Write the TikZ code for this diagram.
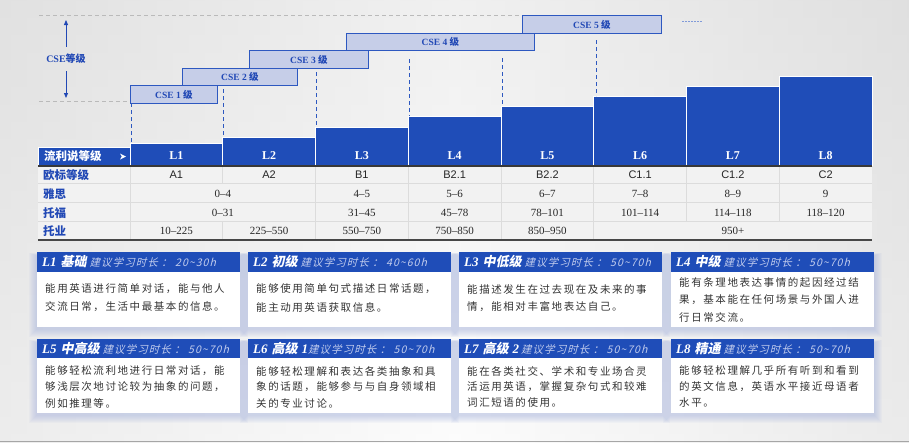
\documentclass[tikz,border=0pt]{standalone}
\usepackage{fontspec}
\setmainfont{Liberation Serif}
\newfontfamily\cjk{Noto Sans CJK SC}
\newfontfamily\cjkbody{Noto Sans CJK SC}[LetterSpace=15]
\newfontfamily\cjksub{Noto Sans CJK SC}[FakeSlant=0.25,LetterSpace=10]
\newfontfamily\cjkttl{Noto Sans CJK SC}[FakeSlant=0.2]
\newfontfamily\arialf{Liberation Sans}
\usetikzlibrary{arrows.meta}
\definecolor{barblue}{HTML}{1F4DB8}
\definecolor{boxfill}{HTML}{C6CEE8}
\definecolor{boxline}{HTML}{2D58C0}
\definecolor{lblue}{HTML}{2148B5}
\definecolor{subc}{HTML}{C2CDEE}
\definecolor{bodyc}{HTML}{333333}
\definecolor{shc}{HTML}{A4B2DE}
\definecolor{sepc}{HTML}{DCDCDC}
\definecolor{tbg}{HTML}{F2F2F2}
\newcommand\cshadow[4]{%
  \foreach \s in {1,...,8}{\fill[shc,opacity=0.075] ({#1-\s},{#2+4-0.4*\s}) rectangle ({#3+\s},{#4+2+\s});}}
\tikzset{
  csebox/.style={draw=boxline,fill=boxfill,line width=0.9pt,inner sep=0pt,anchor=north west,text=lblue,font=\bfseries\fontsize{9.5}{10}\selectfont},
  vdash/.style={draw=boxline,line width=0.9pt,dash pattern=on 4pt off 3pt},
  gdash/.style={draw=black!27,line width=0.8pt,dash pattern=on 4pt off 3pt},
  bar/.style={fill=barblue,draw=white,line width=0.9pt},
  barlbl/.style={text=white,font=\bfseries\fontsize{12}{12}\selectfont},
  rowlbl/.style={text=lblue,anchor=west,inner sep=0pt,font=\cjk\bfseries\fontsize{11.5}{12}\selectfont},
  cellA/.style={text=black!85,inner sep=0pt,font=\arialf\fontsize{11}{12}\selectfont},
  cellN/.style={text=black!85,inner sep=0pt,font=\fontsize{11}{12}\selectfont},
  sepl/.style={draw=sepc,line width=0.8pt},
  hdtxt/.style={anchor=west,inner sep=0pt,text=white},
  bodytxt/.style={anchor=west,inner sep=0pt,text=bodyc,font=\cjkbody\fontsize{10.5}{12}\selectfont},
  arr/.style={draw=lblue,line width=0.8pt,-{Triangle[width=4pt,length=5pt]}}
}
\newcommand\ttlhead[2]{{\bfseries\itshape\fontsize{13}{13}\selectfont #1}\hspace{4pt}{\cjkttl\bfseries\fontsize{13}{13}\selectfont #2}}
\newcommand\ttlsub[1]{{\color{subc}\cjksub\fontsize{10.5}{12}\selectfont #1}}
\newcommand\ttl[3]{\ttlhead{#1}{#2}\hspace{3pt}\ttlsub{#3}}
\begin{document}
\begin{tikzpicture}[x=1pt,y=-1pt]
\useasboundingbox (0,0) rectangle (909,442);
\shade[left color=black!13,right color=black!14,middle color=black!2] (0,0) rectangle (909,442);
\shade[top color=black!10,bottom color=white,opacity=0.45] (0,0) rectangle (909,442);
\draw[black!35,line width=0.8pt] (0,441.5) -- (909,441.5);

% guide lines
\draw[gdash] (39,15) -- (522,15);
\draw[gdash] (39,101) -- (130,101);
\draw[draw=boxline!60,line width=1pt,dash pattern=on 2pt off 1pt] (682,21) -- (703,21);

% CSE label and arrows
\node[text=lblue,inner sep=0pt,minimum height=24pt,font=\bfseries\fontsize{10}{10}\selectfont] (cselbl) at (66,59) {CSE{\cjk\bfseries 等级}};
\coordinate (atop) at (66,20);
\coordinate (abot) at (66,98);
\draw[arr] (cselbl.north) -- (atop);
\draw[arr] (cselbl.south) -- (abot);

% CSE boxes
\node[csebox,minimum width=87pt,minimum height=18pt] (cse1) at (130,85) {CSE 1 {\cjk\bfseries 级}};
\node[csebox,minimum width=115pt,minimum height=17pt] (cse2) at (182,68) {CSE 2 {\cjk\bfseries 级}};
\node[csebox,minimum width=119pt,minimum height=18pt] (cse3) at (249,50) {CSE 3 {\cjk\bfseries 级}};
\node[csebox,minimum width=188pt,minimum height=17pt] (cse4) at (346,33) {CSE 4 {\cjk\bfseries 级}};
\node[csebox,minimum width=139pt,minimum height=18pt] (cse5) at (522,15) {CSE 5 {\cjk\bfseries 级}};

% bars
\node[fill=barblue,draw=white,line width=0.9pt,minimum width=92pt,minimum height=18pt,anchor=north west,inner sep=0pt] (hdr) at (38,147) {};
\node[hdtxt,font=\cjk\bfseries\fontsize{11.5}{12}\selectfont] (hdrt) at (44,156) {流利说等级};
\fill[white] (120,153.5) -- (126,156.5) -- (120,159.5) -- (121.8,156.5) -- cycle;
\foreach \i/\t in {1/143,2/137,3/127,4/116,5/106,6/96,7/86,8/76} {
  \pgfmathsetmacro\xa{130+92.75*(\i-1)}
  \pgfmathsetmacro\xb{130+92.75*\i}
  \filldraw[bar] (\xa,\t) rectangle (\xb,165.5);
  \node[barlbl] (L\i) at ({(\xa+\xb)/2},156) {L\i};
}

% dashed drops
\coordinate (d1a) at (131.5,103); \coordinate (d1b) at (131.5,143);
\coordinate (d2a) at (223.5,89);  \coordinate (d2b) at (223.5,137);
\coordinate (d3a) at (316.5,72);  \coordinate (d3b) at (316.5,127);
\coordinate (d4a) at (409.5,59);  \coordinate (d4b) at (409.5,116);
\coordinate (d5a) at (502,58);    \coordinate (d5b) at (502,105);
\coordinate (d6a) at (596,40);    \coordinate (d6b) at (596,96);
\foreach \k in {1,...,6} {\draw[vdash] (d\k a) -- (d\k b);}

% table
\fill[tbg] (38,166.5) rectangle (872,239);
\foreach \y in {183,202,221} {\draw[sepl] (38,\y) -- (872,\y);}
\foreach \i in {0,...,7} {\draw[sepl] ({130+92.75*\i},166.5) -- ({130+92.75*\i},183);}
\foreach \i in {0,2,3,4,5,6,7} {\draw[sepl] ({130+92.75*\i},183) -- ({130+92.75*\i},221);}
\foreach \i in {0,...,5} {\draw[sepl] ({130+92.75*\i},221) -- ({130+92.75*\i},239);}
\draw[black!78,line width=1.5pt] (38,165.8) -- (872,165.8);
\draw[black!72,line width=2pt] (38,239.5) -- (872,239.5);

\node[rowlbl] (r1) at (43,175) {欧标等级};
\node[rowlbl] (r2) at (43,194) {雅思};
\node[rowlbl] (r3) at (43,213) {托福};
\node[rowlbl] (r4) at (43,231) {托业};

\foreach \i/\v in {1/A1,2/A2,3/B1,4/B2.1,5/B2.2,6/C1.1,7/C1.2,8/C2} {
  \node[cellA] (e\i) at ({130+92.75*(\i-0.5)},175) {\v};
}
\node[cellN] (i12) at (222.75,194) {0--4};
\foreach \i/\v in {3/4--5,4/5--6,5/6--7,6/7--8,7/8--9,8/9} {
  \node[cellN] (i\i) at ({130+92.75*(\i-0.5)},194) {\v};
}
\node[cellN] (t12) at (222.75,213) {0--31};
\foreach \i/\v in {3/31--45,4/45--78,5/78--101,6/101--114,7/114--118,8/118--120} {
  \node[cellN] (t\i) at ({130+92.75*(\i-0.5)},213) {\v};
}
\foreach \i/\v in {1/10--225,2/225--550,3/550--750,4/750--850,5/850--950} {
  \node[cellN] (o\i) at ({130+92.75*(\i-0.5)},231) {\v};
}
\node[cellN] (o678) at (732.9,231) {950+};

% card shadows
\foreach \cx in {37,248,459,671} {\cshadow{\cx}{252}{\cx+203}{327}\cshadow{\cx}{339}{\cx+203}{413}}
% cards
\foreach \cx in {37,248,459,671} {
  \fill[barblue] (\cx,252) rectangle (\cx+203,272);
  \fill[white] (\cx,272) rectangle (\cx+203,327);
  \fill[barblue] (\cx,339) rectangle (\cx+203,358);
  \fill[white] (\cx,358) rectangle (\cx+203,413);
}
% titles
\node[hdtxt] (h1) at (42,262) {\ttl{L1}{基础}{建议学习时长 ： 20\string~30h}};
\node[hdtxt] (h2) at (253,262) {\ttl{L2}{初级}{建议学习时长 ： 40\string~60h}};
\node[hdtxt] (h3) at (464,262) {\ttl{L3}{中低级}{建议学习时长 ： 50\string~70h}};
\node[hdtxt] (h4) at (676,262) {\ttl{L4}{中级}{建议学习时长 ： 50\string~70h}};
\node[hdtxt] (h5) at (42,348.5) {\ttl{L5}{中高级}{建议学习时长 ： 50\string~70h}};
\node[hdtxt] (h6) at (253,348.5) {\ttlhead{L6}{高级}\hspace{4pt}{\bfseries\itshape\fontsize{13}{13}\selectfont 1}\ttlsub{建议学习时长 ： 50\string~70h}};
\node[hdtxt] (h7) at (464,348.5) {\ttlhead{L7}{高级}\hspace{4pt}{\bfseries\itshape\fontsize{13}{13}\selectfont 2}\hspace{2pt}\ttlsub{建议学习时长 ： 50\string~70h}};
\node[hdtxt] (h8) at (676,348.5) {\ttl{L8}{精通}{建议学习时长 ： 50\string~70h}};

% bodies
\node[bodytxt] (b1a) at (45,289) {能用英语进行简单对话，能与他人};
\node[bodytxt] (b1b) at (45,307) {交流日常，生活中最基本的信息。};
\node[bodytxt] (b2a) at (256,289) {能够使用简单句式描述日常话题，};
\node[bodytxt] (b2b) at (256,307) {能主动用英语获取信息。};
\node[bodytxt] (b3a) at (467,289) {能描述发生在过去现在及未来的事};
\node[bodytxt] (b3b) at (467,307) {情，能相对丰富地表达自己。};
\node[bodytxt] (b4a) at (679,283) {能有条理地表达事情的起因经过结};
\node[bodytxt] (b4b) at (679,300) {果，基本能在任何场景与外国人进};
\node[bodytxt] (b4c) at (679,317) {行日常交流。};
\node[bodytxt] (b5a) at (45,371) {能够轻松流利地进行日常对话，能};
\node[bodytxt] (b5b) at (45,387) {够浅层次地讨论较为抽象的问题，};
\node[bodytxt] (b5c) at (45,403) {例如推理等。};
\node[bodytxt] (b6a) at (256,371) {能够轻松理解和表达各类抽象和具};
\node[bodytxt] (b6b) at (256,387) {象的话题，能够参与与自身领域相};
\node[bodytxt] (b6c) at (256,403) {关的专业讨论。};
\node[bodytxt] (b7a) at (467,371) {能在各类社交、学术和专业场合灵};
\node[bodytxt] (b7b) at (467,387) {活运用英语，掌握复杂句式和较难};
\node[bodytxt] (b7c) at (467,403) {词汇短语的使用。};
\node[bodytxt] (b8a) at (679,371) {能够轻松理解几乎所有听到和看到};
\node[bodytxt] (b8b) at (679,387) {的英文信息，英语水平接近母语者};
\node[bodytxt] (b8c) at (679,403) {水平。};
\end{tikzpicture}
\end{document}
